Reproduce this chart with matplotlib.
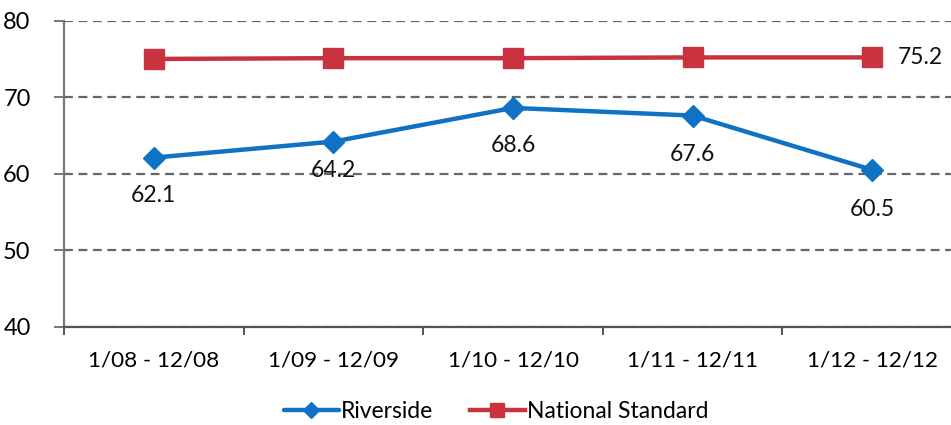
import matplotlib.pyplot as plt

plt.rcParams['font.family'] = ['Lato', 'DejaVu Sans']

# Yearly periods and scores
periods = ['1/08 - 12/08', '1/09 - 12/09', '1/10 - 12/10', '1/11 - 12/11', '1/12 - 12/12']
riverside = [62.1, 64.2, 68.6, 67.6, 60.5]
national = [75.0, 75.1, 75.1, 75.2, 75.2]

blue = '#0f72c4'
red = '#c9323f'
grid_col = '#666666'

fig = plt.figure(figsize=(9.51, 4.25), dpi=100)
ax = fig.add_axes([64 / 951, 1 - 326.7 / 425, 898 / 951, 306 / 425])

x = list(range(len(periods)))
ax.plot(x, riverside, color=blue, lw=3.2, marker='D', markersize=11,
        label='Riverside', solid_capstyle='round')
ax.plot(x, national, color=red, lw=3.2, marker='s', markersize=14,
        label='National Standard')

# value labels under the Riverside points, and right of the last standard point
offsets = [-38, -29, -38, -39, -40]
for xi, v, off in zip(x, riverside, offsets):
    ax.annotate(f'{v:.1f}', (xi, v), xytext=(0, off * 0.72), textcoords='offset points',
                ha='center', va='center', fontsize=16.5, color='#111111')
ax.annotate(f'{national[-1]:.1f}', (x[-1], national[-1]), xytext=(48 * 0.72, 0),
            textcoords='offset points', ha='center', va='center', fontsize=16.5,
            color='#111111')

ax.set_xlim(-0.5, 4.5)
ax.set_ylim(40, 80)
ax.set_yticks([40, 50, 60, 70, 80])
ax.set_xticks(x)
ax.set_xticklabels(periods)
ax.set_xticks([i + 0.5 for i in range(-1, 4)], minor=True)

ax.yaxis.grid(True, linestyle=(0, (4, 2.5)), color=grid_col, lw=1.6)
ax.set_axisbelow(True)
for s in ['top', 'right']:
    ax.spines[s].set_visible(False)
ax.spines['left'].set_color('#777777')
ax.spines['left'].set_linewidth(1.6)
ax.spines['bottom'].set_color('#555555')
ax.spines['bottom'].set_linewidth(1.6)

ax.tick_params(axis='y', length=7, width=1.4, color='#777777', labelsize=17, pad=17)
ax.tick_params(axis='x', which='major', length=0, labelsize=16.2, pad=17)
ax.tick_params(axis='x', which='minor', length=6, width=1.4, color='#555555')

fig.legend(*ax.get_legend_handles_labels(), loc='center',
           bbox_to_anchor=(496 / 951, 1 - 412 / 425), ncol=2,
           frameon=False, fontsize=16.5, handlelength=2.4, handletextpad=0.1,
           columnspacing=1.6, markerscale=0.75, borderaxespad=0, borderpad=0)

fig.savefig('out.png', dpi=100)
